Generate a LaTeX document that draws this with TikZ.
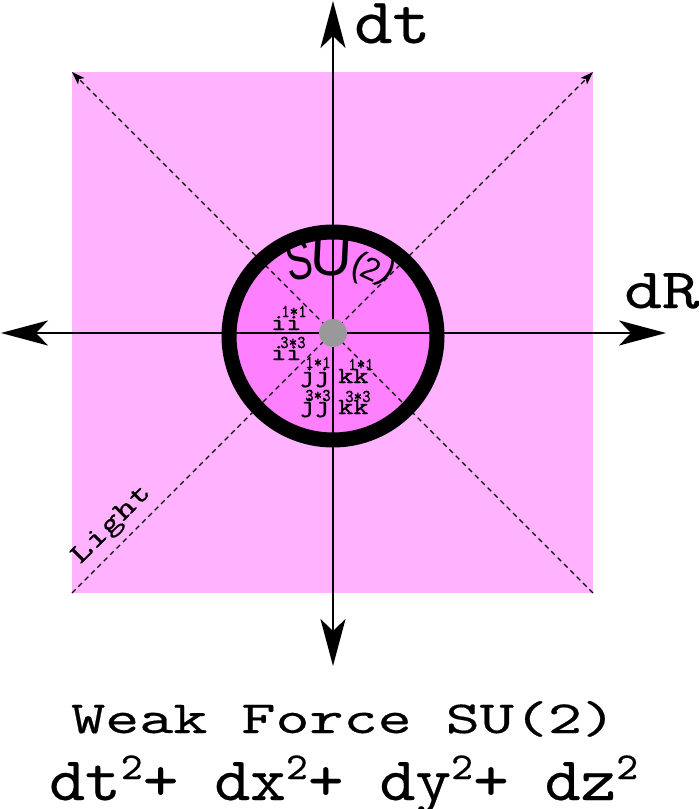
\documentclass[tikz,border=0pt]{standalone}
\usepackage{fontspec}
\newfontfamily\sufont{Liberation Sans}
\newfontfamily\ttb{lmmono10-regular.otf}[FakeBold=0.35]
\newfontfamily\ttl{lmmono10-regular.otf}[FakeBold=1.2]
\usetikzlibrary{arrows.meta}
\definecolor{sqpink}{RGB}{255,179,255}
\definecolor{cpink}{RGB}{255,128,255}
\definecolor{dotgray}{RGB}{153,153,153}
\newcommand{\fs}[1]{\fontsize{#1}{#1}\selectfont}
\newcommand{\sqr}{\raisebox{21pt}{\fs{38}2}}
\begin{document}
\begin{tikzpicture}[x=1pt,y=-1pt,
  axis/.style={line width=2.7pt,-{Stealth[length=47pt,width=25pt,inset=12pt]}},
  lightline/.style={dash pattern=on 5pt off 4pt,line width=1.1pt},
  lightarrow/.style={lightline,-{Stealth[length=13pt,width=9pt,inset=3pt]}},
  txt/.style={inner sep=0pt,anchor=base west,font=\ttb},
  lbl/.style={txt,font=\ttl\fs{23}},
  sup/.style={txt,font=\ttl\fs{18}},
  su/.style={inner sep=0pt,font=\sufont},
]
\useasboundingbox (0,0) rectangle (699,809);
% pink square
\fill[sqpink] (72,72) rectangle (593,593);
\coordinate (TL) at (72,72);
\coordinate (TR) at (593,72);
\coordinate (BL) at (72,593);
\coordinate (BR) at (593,593);
\coordinate (O) at (333,333);
\coordinate (C) at (333,336);
% circle fill
\fill[cpink] (C) circle[radius=104];
% light lines
\draw[lightarrow] (BR) -- (TL);
\draw[lightarrow] (BL) -- (TR);
% ring
\draw[line width=15pt] (C) circle[radius=104];
% axes
\coordinate (top) at (333,1);
\coordinate (bot) at (333,666);
\coordinate (lft) at (1,333);
\coordinate (rgt) at (666,333);
\draw[axis] (O) -- (top);
\draw[axis] (O) -- (bot);
\draw[axis] (O) -- (lft);
\draw[axis] (O) -- (rgt);
% centre dot
\fill[dotgray] (O) circle[radius=14];
% axis labels
\node[txt,font=\ttb\fs{65}] (dt) at (354,43) {\scalebox{1.12}[1]{dt}};
\node[txt,font=\ttb\fs{57}] (dR) at (624,308) {\scalebox{1.26}[1]{dR}};
% Light
\node[txt,font=\ttb\fs{28},rotate=45] (light) at (80,565) {\scalebox{1.38}[1]{Light}};
% SU(2)
\node[su,font=\sufont\fs{56},rotate=10] (S) at (299,260) {\scalebox{0.7}[1]{S}};
\node[su,font=\sufont\fs{58},rotate=-3] (U) at (331,256) {U};
\node[su,font=\sufont\fs{36},rotate=-20] (p1) at (358,267) {(};
\node[su,font=\sufont\fs{32},rotate=-25] (two) at (371,269) {2};
\node[su,font=\sufont\fs{36},rotate=-35] (p2) at (387,273) {)};
% quaternion labels
\node[lbl] (ia) at (271,330) {\scalebox{1.25}[1]{ii}};
\node[sup] (ias) at (281,317) {\scalebox{0.9}[1]{1*1}};
\node[lbl] (ib) at (271,360) {\scalebox{1.25}[1]{ii}};
\node[sup] (ibs) at (280,348) {\scalebox{0.9}[1]{3*3}};
\node[lbl] (ja) at (300,382) {\scalebox{1.25}[1]{jj}};
\node[sup] (jas) at (305,368) {\scalebox{0.9}[1]{1*1}};
\node[lbl] (ka) at (338,383) {\scalebox{1.25}[1]{kk}};
\node[sup] (kas) at (348,370) {\scalebox{0.9}[1]{1*1}};
\node[lbl] (jb) at (300,412) {\scalebox{1.25}[1]{jj}};
\node[sup] (jbs) at (305,401) {\scalebox{0.9}[1]{3*3}};
\node[lbl] (kb) at (338,414) {\scalebox{1.25}[1]{kk}};
\node[sup] (kbs) at (345,402) {\scalebox{0.9}[1]{3*3}};
% bottom text
\node[txt,font=\ttb\fs{46}] (title) at (71,733) {\scalebox{1.41}[1]{Weak Force SU(2)}};
\node[txt,font=\ttb\fs{62}] (eq) at (49,800) {\scalebox{1.1}[1]{dt\sqr+ dx\sqr+ dy\sqr+ dz\sqr}};
\end{tikzpicture}
\end{document}
